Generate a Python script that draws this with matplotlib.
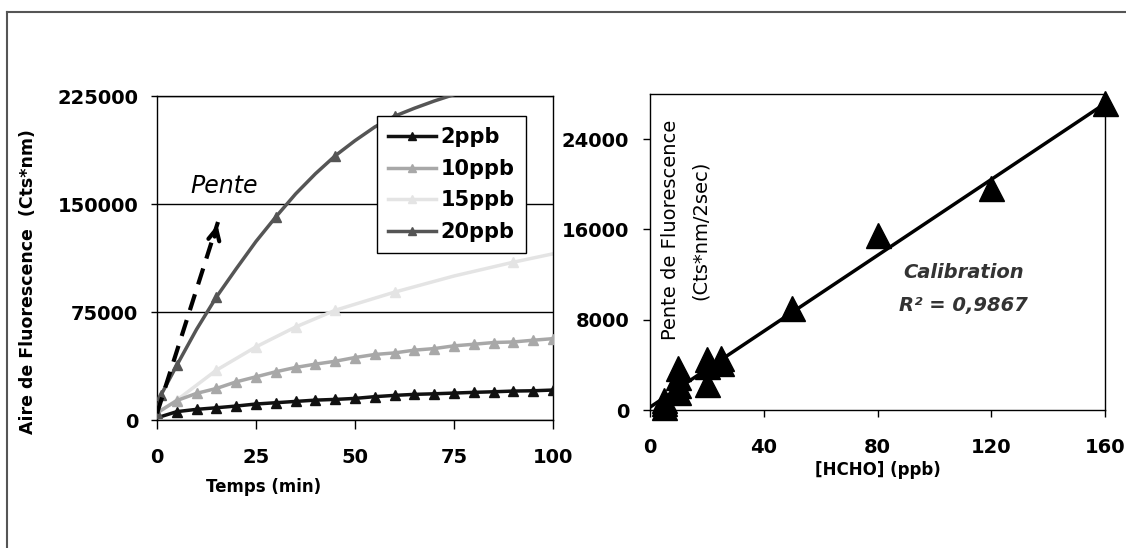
#!/usr/bin/env python3
"""Fluorescence kinetics (left) and HCHO calibration (right)."""
import matplotlib
matplotlib.use("Agg")
import matplotlib.pyplot as plt
from matplotlib.lines import Line2D

# Left panel: fluorescence area vs time
time_5min = [0, 5, 10, 15, 20, 25, 30, 35, 40, 45, 50,
             55, 60, 65, 70, 75, 80, 85, 90, 95, 100]
aire_2ppb = [1500, 5800, 7400, 8500, 9700, 11100, 12000, 12900, 13800, 14300, 15000,
             16200, 17100, 17800, 18200, 18700, 19200, 19600, 20100, 20300, 20800]
aire_10ppb = [5000, 13500, 18500, 21900, 26500, 30000, 33500, 36500, 38800, 40800, 43400,
              45500, 46600, 48500, 49600, 51500, 52600, 53800, 54200, 55400, 56500]
time_15ppb = [0, 5, 15, 25, 35, 45, 60, 75, 90, 100]
aire_15ppb = [4600, 13800, 34600, 50800, 64600, 76200, 88800, 100000, 109600, 115400]
mark_15ppb = [1, 2, 3, 4, 5, 6, 8]
time_20ppb = [0, 1, 5, 10, 15, 20, 25, 30, 35, 40, 45, 50, 55, 60, 65, 70, 75]
aire_20ppb = [4600, 17300, 38000, 63000, 85400, 105000, 124000, 141000, 157000,
              171000, 183500, 194000, 203500, 211000, 216500, 221500, 226000]
mark_20ppb = [0, 1, 2, 4, 7, 10, 13]
series_labels = ["2ppb", "10ppb", "15ppb", "20ppb"]
left_xticks = [0, 25, 50, 75, 100]
left_yticks = [0, 75000, 150000, 225000]

# "Pente" dashed arrow (start, tip) in data units
pente_x = [0, 15.4]
pente_y = [4600, 137500]

# Right panel: calibration
hcho_ppb = [5, 5, 5, 10, 10, 10, 10, 20, 20, 20, 25, 25, 50, 80, 120, 160]
pente_fluo = [300, 600, 900, 3700, 2900, 2200, 1600, 4500, 3900, 2300,
              4600, 4200, 9000, 15500, 19700, 27200]
fit_x = [0, 160]
fit_y = [250, 27150]
right_xticks = [0, 40, 80, 120, 160]
right_yticks = [0, 8000, 16000, 24000]

plt.rcParams["font.family"] = ["DejaVu Sans"]
fig = plt.figure(figsize=(11.26, 5.48), dpi=100)
fig.patch.set_facecolor("white")

# outer frame (top and left only)
fig.add_artist(Line2D([7 / 1126, 1], [1 - 12 / 548] * 2, color="#555555", lw=1.5))
fig.add_artist(Line2D([7 / 1126] * 2, [0, 1 - 12 / 548], color="#555555", lw=1.5))

tickfont = dict(fontsize=14, fontweight="bold")

# ---------------- left panel ----------------
ax1 = fig.add_axes([157 / 1126, 1 - 420 / 548, 396 / 1126, 324 / 548])
ax1.plot(time_5min, aire_2ppb, color="#111111", lw=2.5, marker="^", ms=7,
         markevery=slice(1, None), label=series_labels[0], zorder=4)
ax1.plot(time_5min, aire_10ppb, color="#a8a8a8", lw=2.5, marker="^", ms=7,
         markevery=slice(1, None), label=series_labels[1], zorder=3)
ax1.plot(time_15ppb, aire_15ppb, color="#e4e4e4", lw=2.5, marker="^", ms=7,
         markevery=mark_15ppb, label=series_labels[2], zorder=2)
ax1.plot(time_20ppb, aire_20ppb, color="#555555", lw=2.5, marker="^", ms=7,
         markevery=mark_20ppb, label=series_labels[3], zorder=5)

ax1.plot(pente_x, pente_y, color="black", lw=3, ls=(0, (4, 2.5)), zorder=6)
ax1.annotate("", xy=(pente_x[1], pente_y[1]), xytext=(pente_x[1] - 1.0, pente_y[1] - 12000),
             arrowprops=dict(arrowstyle="->", color="black", lw=3, mutation_scale=20),
             zorder=6)
ax1.text(17.0, 162500, "Pente", fontsize=17, fontstyle="italic", ha="center", va="center")

ax1.set_xlim(0, 100)
ax1.set_ylim(0, 225000)
ax1.set_xticks(left_xticks)
ax1.set_yticks(left_yticks)
ax1.set_xticklabels([str(v) for v in left_xticks], **tickfont)
ax1.set_yticklabels([str(v) for v in left_yticks], **tickfont)
ax1.tick_params(axis="x", direction="out", length=6.5, width=1, pad=14)
ax1.tick_params(axis="y", direction="out", length=4.5, width=1, pad=9)
ax1.grid(axis="y", color="black", lw=1)
ax1.set_axisbelow(True)
for sp in ax1.spines.values():
    sp.set_linewidth(1)
ax1.set_xlabel("Temps (min)", fontsize=12, fontweight="bold")
ax1.xaxis.set_label_coords(0.27, -0.18)
fig.text(28 / 1126, 1 - 282 / 548, "Aire de Fluorescence  (Cts*nm)", rotation=90,
         fontsize=12.5, fontweight="bold", ha="center", va="center")

leg = ax1.legend(loc="upper left", bbox_to_anchor=(377 / 1126, 1 - 116 / 548),
                 bbox_transform=fig.transFigure, fancybox=False, framealpha=1,
                 edgecolor="black", handlelength=2.3, labelspacing=0.55,
                 borderpad=0.55, borderaxespad=0, handletextpad=0.2, markerscale=0.8,
                 prop=dict(size=15, weight="bold"))
leg.get_frame().set_linewidth(1)

# ---------------- right panel ----------------
ax2 = fig.add_axes([650 / 1126, 1 - 410 / 548, 455 / 1126, 316 / 548])
ax2.plot(fit_x, fit_y, color="black", lw=2.5, zorder=3)
ax2.plot(hcho_ppb, pente_fluo, ls="none", marker="^", ms=18, color="black",
         clip_on=False, zorder=4)
ax2.text(110.3, 12200, "Calibration", fontsize=14, fontweight="bold", fontstyle="italic",
         color="#333333", ha="center", va="center")
ax2.text(110.3, 9300, "R² = 0,9867", fontsize=14, fontweight="bold", fontstyle="italic",
         color="#333333", ha="center", va="center")
ax2.text(0.045, 0.57, "Pente de Fluorescence", transform=ax2.transAxes, rotation=90,
         fontsize=14, ha="center", va="center")
ax2.text(0.11, 0.57, "(Cts*nm/2sec)", transform=ax2.transAxes, rotation=90,
         fontsize=14, ha="center", va="center")

ax2.set_xlim(0, 160)
ax2.set_ylim(0, 28000)
ax2.set_xticks(right_xticks)
ax2.set_yticks(right_yticks)
ax2.set_xticklabels([str(v) for v in right_xticks], **tickfont)
ax2.set_yticklabels([str(v) for v in right_yticks], **tickfont)
ax2.tick_params(axis="x", direction="out", length=5, width=1, pad=15)
ax2.tick_params(axis="y", direction="out", length=5, width=1, pad=10)
for sp in ax2.spines.values():
    sp.set_linewidth(1)
ax2.set_xlabel("[HCHO] (ppb)", fontsize=12, fontweight="bold", labelpad=3)

fig.savefig("out.png", dpi=100)
